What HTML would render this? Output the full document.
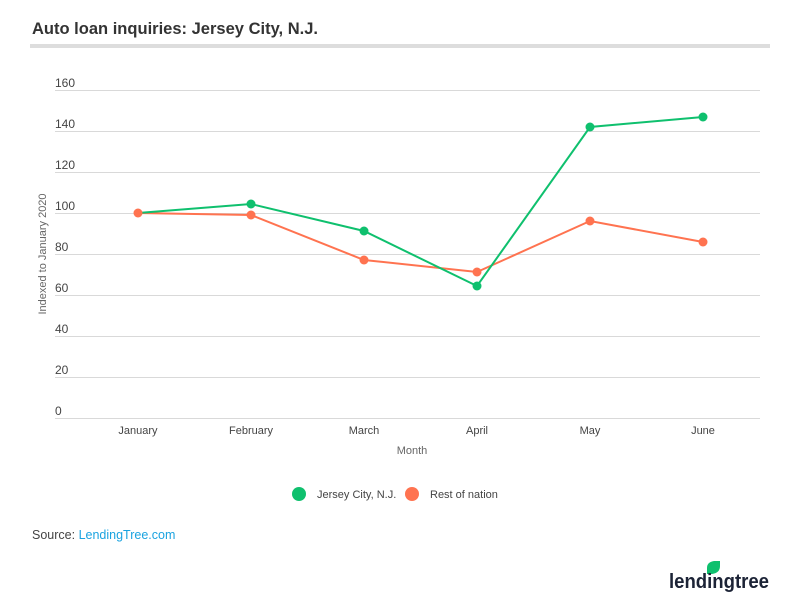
<!DOCTYPE html>
<html><head><meta charset="utf-8"><style>
body{margin:0;background:#fff;font-family:"Liberation Sans",sans-serif;}
</style></head><body>
<svg width="800" height="606" xmlns="http://www.w3.org/2000/svg" font-family="Liberation Sans, sans-serif">
<rect width="800" height="606" fill="#fff"/>
<text x="32" y="34" font-size="16.5" font-weight="bold" fill="#333" textLength="286" lengthAdjust="spacingAndGlyphs">Auto loan inquiries: Jersey City, N.J.</text>
<rect x="30" y="44" width="740" height="4" fill="#ddd"/>
<g stroke="#d9d9d9" stroke-width="1">
<line x1="55" x2="760" y1="90.5" y2="90.5"/><line x1="55" x2="760" y1="131.5" y2="131.5"/>
<line x1="55" x2="760" y1="172.5" y2="172.5"/><line x1="55" x2="760" y1="213.5" y2="213.5"/>
<line x1="55" x2="760" y1="254.5" y2="254.5"/><line x1="55" x2="760" y1="295.5" y2="295.5"/>
<line x1="55" x2="760" y1="336.5" y2="336.5"/><line x1="55" x2="760" y1="377.5" y2="377.5"/>
<line x1="55" x2="760" y1="418.5" y2="418.5"/>
</g>
<g font-size="12" fill="#444">
<text x="55" y="87">160</text><text x="55" y="128">140</text><text x="55" y="169">120</text>
<text x="55" y="210">100</text><text x="55" y="251">80</text><text x="55" y="292">60</text>
<text x="55" y="333">40</text><text x="55" y="374">20</text><text x="55" y="415">0</text>
</g>
<text transform="translate(46,254) rotate(-90)" text-anchor="middle" font-size="11" fill="#666">Indexed to January 2020</text>
<g font-size="11" fill="#444" text-anchor="middle">
<text x="138" y="434">January</text><text x="251" y="434">February</text><text x="364" y="434">March</text>
<text x="477" y="434">April</text><text x="590" y="434">May</text><text x="703" y="434">June</text>
</g>
<text x="412" y="454" font-size="11" fill="#666" text-anchor="middle">Month</text>
<polyline fill="none" stroke="#ff7350" stroke-width="2" points="138,213 251,215 364,260 477,272 590,221 703,242"/>
<polyline fill="none" stroke="#0fc06e" stroke-width="2" points="138,213 251,204 364,231 477,286 590,127 703,117"/>
<g fill="#0fc06e"><circle cx="251" cy="204" r="4.5"/><circle cx="364" cy="231" r="4.5"/><circle cx="477" cy="286" r="4.5"/><circle cx="590" cy="127" r="4.5"/><circle cx="703" cy="117" r="4.5"/></g>
<g fill="#ff7350"><circle cx="138" cy="213" r="4.5"/><circle cx="251" cy="215" r="4.5"/><circle cx="364" cy="260" r="4.5"/><circle cx="477" cy="272" r="4.5"/><circle cx="590" cy="221" r="4.5"/><circle cx="703" cy="242" r="4.5"/></g>
<circle cx="299" cy="494" r="7" fill="#0fc06e"/>
<text x="317" y="498" font-size="11" fill="#444">Jersey City, N.J.</text>
<circle cx="412" cy="494" r="7" fill="#ff7350"/>
<text x="430" y="498" font-size="11" fill="#444">Rest of nation</text>
<text x="32" y="539" font-size="12.5" fill="#444">Source: <tspan fill="#1aa3e0">LendingTree.com</tspan></text>
<path d="M707,574 l0,-6 q0,-6 7,-7 l6,0 l0,5 q0,7 -8,8 z" fill="#0fc06e"/>
<text x="669" y="588" font-size="20" font-weight="bold" fill="#1c2336" textLength="100" lengthAdjust="spacingAndGlyphs">lendingtree</text>
</svg>
</body></html>
